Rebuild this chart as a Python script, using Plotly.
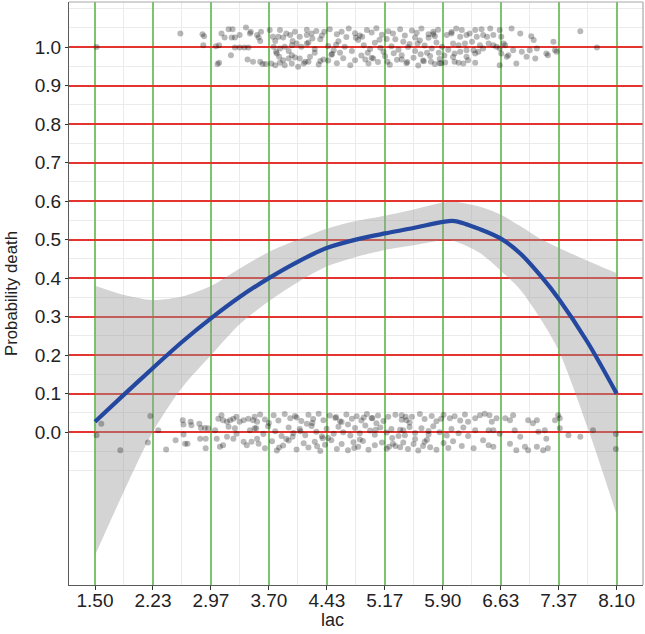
import plotly.graph_objects as go

# ---------------- data ----------------
tick_vals = [1.50, 2.2333, 2.9667, 3.70, 4.4333, 5.1667, 5.90, 6.6333, 7.3667, 8.10]
tick_text = ["1.50", "2.23", "2.97", "3.70", "4.43", "5.17", "5.90", "6.63", "7.37", "8.10"]
y_tick_vals = [0.0, 0.1, 0.2, 0.3, 0.4, 0.5, 0.6, 0.7, 0.8, 0.9, 1.0]
y_tick_text = ["0.0", "0.1", "0.2", "0.3", "0.4", "0.5", "0.6", "0.7", "0.8", "0.9", "1.0"]

fit_x = [1.50, 1.87, 2.23, 2.60, 2.97, 3.33, 3.70, 4.07, 4.43, 4.80, 5.17, 5.53,
         5.90, 6.05, 6.37, 6.63, 6.88, 7.15, 7.37, 7.73, 8.10]
fit_y = [0.027, 0.098, 0.166, 0.234, 0.296, 0.351, 0.400, 0.443, 0.478, 0.500, 0.516, 0.530,
         0.546, 0.548, 0.527, 0.503, 0.464, 0.403, 0.345, 0.234, 0.100]
ci_upper = [0.380, 0.356, 0.343, 0.352, 0.380, 0.425, 0.468, 0.500, 0.528, 0.548, 0.562, 0.578,
            0.596, 0.598, 0.585, 0.565, 0.535, 0.500, 0.478, 0.445, 0.413]
ci_lower = [-0.320, -0.152, 0.000, 0.115, 0.200, 0.280, 0.340, 0.390, 0.430, 0.455, 0.473, 0.485,
            0.498, 0.496, 0.465, 0.420, 0.370, 0.290, 0.210, 0.013, -0.215]

died_lac = [1.52, 2.58, 2.86, 2.88, 2.87, 3.03, 3.07, 3.10, 3.14, 3.19, 3.24, 3.23, 3.27, 3.33, 3.41,
            3.46, 3.47, 3.22, 3.27, 3.33, 3.39, 3.44, 3.05, 3.07, 3.43, 3.50, 3.59, 3.62, 3.66, 3.55,
            3.57, 3.59, 3.60, 3.71, 3.75, 3.78, 3.82, 3.84, 3.88, 3.92, 3.97, 4.00, 4.03, 4.09, 4.18,
            3.76, 3.79, 3.84, 3.90, 3.95, 3.99, 4.05, 4.11, 4.18, 3.80, 3.83, 3.88, 3.95, 3.99, 4.03,
            4.09, 4.14, 4.20, 3.73, 3.78, 3.84, 3.90, 3.99, 4.07,
            4.18, 4.24, 4.30, 4.37, 4.47, 4.56, 4.62, 4.71, 4.79, 4.85, 4.94, 5.00, 5.06, 5.13, 5.21,
            5.27, 5.36, 5.42, 5.51, 5.57, 5.63, 5.72, 5.78, 5.84, 5.95, 6.01,
            4.20, 4.28, 4.35, 4.45, 4.52, 4.58, 4.66, 4.75, 4.83, 4.90, 4.98, 5.04, 5.11, 5.19, 5.25,
            5.34, 5.40, 5.46, 5.55, 5.61, 5.67, 5.76, 5.82, 5.89, 5.97,
            4.16, 4.22, 4.33, 4.39, 4.49, 4.56, 4.64, 4.73, 4.79, 4.87, 4.96, 5.02, 5.08, 5.17, 5.23,
            5.32, 5.38, 5.44, 5.53, 5.59, 5.65, 5.74, 5.80, 5.86, 5.93, 6.03,
            5.70, 5.75, 5.55, 4.95, 4.60, 5.85, 4.40, 5.30, 5.88, 4.45,
            6.01, 6.07, 6.14, 6.12, 6.20, 6.24, 6.31, 6.33, 6.39, 6.41, 6.46, 6.50, 6.54, 6.03, 6.10,
            6.18, 6.27, 6.37, 6.48, 6.54, 6.58, 6.05, 6.12, 6.20, 6.29, 6.31, 6.35, 6.41, 6.05, 6.10,
            6.16, 6.22, 6.31, 6.20, 6.62, 6.64, 6.67, 6.62, 6.64, 6.62, 6.69, 6.77, 6.88, 6.79, 6.73,
            6.71, 6.83, 6.90, 6.96, 7.00, 7.02, 7.05, 7.09, 7.07, 7.21, 7.23, 7.30, 7.32, 7.34, 7.64,
            7.85,
            4.25, 4.50, 4.68, 4.92, 5.10, 5.28, 5.48, 5.66, 5.80, 4.35, 4.80, 5.15, 5.45, 5.72, 5.92,
            4.55, 5.00, 5.38, 5.62, 5.86, 4.28, 4.88, 5.20, 5.58, 5.78]
died_y = [1.000, 1.035, 1.033, 1.028, 1.005, 1.002, 1.005, 1.035, 1.025, 1.046, 1.046, 1.025, 1.025, 1.031, 1.051,
          1.035, 1.040, 0.979, 0.999, 0.999, 0.999, 0.999, 0.956, 0.959, 0.968, 0.962, 0.962, 0.956, 0.956, 1.031,
          1.025, 1.016, 1.040, 1.044, 1.027, 1.016, 1.027, 1.044, 1.025, 1.035, 1.031, 1.016, 1.040, 1.027, 1.031,
          1.001, 0.988, 0.996, 1.001, 0.990, 1.005, 1.009, 1.001, 1.009, 0.983, 0.975, 0.966, 0.970, 0.979, 0.973,
          0.970, 0.957, 0.962, 0.957, 0.953, 0.959, 0.953, 0.957, 0.949,
          1.045, 1.035, 1.042, 1.030, 1.046, 1.033, 1.040, 1.048, 1.036, 1.030, 1.044, 1.038, 1.049, 1.032, 1.041,
          1.035, 1.046, 1.030, 1.043, 1.037, 1.048, 1.033, 1.040, 1.045, 1.031, 1.039,
          1.012, 0.995, 1.020, 1.003, 0.992, 1.015, 1.001, 0.990, 1.018, 1.005, 0.995, 1.011, 0.998, 1.021, 1.002,
          0.993, 1.014, 1.000, 0.990, 1.017, 1.004, 0.996, 1.012, 1.001, 0.993,
          0.962, 0.975, 0.955, 0.968, 0.980, 0.958, 0.971, 0.953, 0.966, 0.978, 0.957, 0.970, 0.961, 0.976, 0.954,
          0.967, 0.979, 0.958, 0.972, 0.952, 0.965, 0.977, 0.956, 0.969, 0.960, 0.974,
          0.985, 0.962, 1.025, 0.985, 0.985, 0.985, 1.040, 1.020, 0.958, 0.965,
          1.035, 1.048, 1.044, 1.027, 1.031, 1.035, 1.044, 1.027, 1.046, 1.031, 1.027, 1.048, 1.031, 1.009, 1.005,
          1.009, 1.014, 1.005, 1.009, 1.005, 1.001, 0.983, 0.988, 0.992, 0.992, 0.983, 0.988, 0.996, 0.962, 0.959,
          0.957, 0.966, 0.959, 0.975, 1.044, 1.027, 1.009, 0.996, 0.983, 0.953, 1.005, 1.048, 1.035, 0.992, 0.979,
          0.975, 0.957, 0.988, 0.975, 0.992, 1.028, 1.018, 0.996, 0.970, 0.983, 0.979, 1.014, 0.992, 0.988, 1.041,
          0.999,
          1.022, 0.982, 1.026, 0.968, 1.019, 0.984, 1.008, 0.963, 1.028, 0.964, 1.024, 0.988, 0.961, 1.024, 0.978,
          1.006, 0.972, 0.968, 0.981, 0.958, 0.985, 1.027, 0.962, 1.009, 1.033]

alive_lac = [1.58, 1.52, 1.82, 2.20, 2.17, 2.30, 2.40, 2.52, 2.61, 2.62, 2.62, 2.64, 2.67, 2.71, 2.72,
             2.82, 2.84, 2.83, 2.90, 2.90, 2.89, 2.93, 3.02, 3.04, 3.06, 3.10, 3.12, 3.17, 3.21, 3.25,
             3.29, 3.33, 3.38, 3.44, 3.50, 3.55, 3.08, 3.12, 3.17, 3.25, 3.29, 3.38, 3.42, 3.48, 3.55,
             3.19, 3.27, 3.46, 3.52,
             3.52, 3.59, 3.65, 3.76, 3.82, 3.90, 3.97, 4.03, 4.11, 4.20, 4.26, 4.33, 4.39, 4.47, 4.54,
             4.60, 4.68, 4.75, 4.81, 4.87, 4.94, 5.00, 5.08, 5.15, 5.21, 5.30, 5.38,
             3.54, 3.63, 3.69, 3.78, 3.86, 3.95, 4.01, 4.09, 4.16, 4.24, 4.30, 4.37, 4.43, 4.52, 4.58,
             4.64, 4.73, 4.79, 4.85, 4.92, 4.98, 5.04, 5.11, 5.19, 5.25, 5.34, 5.40,
             3.57, 3.65, 3.74, 3.80, 3.88, 3.95, 4.05, 4.14, 4.20, 4.28, 4.35, 4.41, 4.49, 4.56, 4.62,
             4.70, 4.77, 4.83, 4.89, 4.96, 5.04, 5.13, 5.19, 5.27, 5.36,
             4.10, 4.45, 4.70, 5.05, 5.55, 4.25, 5.30, 4.90, 5.72, 4.00,
             5.38, 5.44, 5.51, 5.61, 5.67, 5.76, 5.82, 5.91, 5.99, 6.05, 6.12, 6.18,
             5.36, 5.42, 5.48, 5.55, 5.63, 5.72, 5.78, 5.86, 5.95, 6.01, 6.10, 6.16, 6.22,
             5.40, 5.46, 5.53, 5.59, 5.67, 5.74, 5.82, 5.91, 5.97, 6.03, 6.14,
             6.22, 6.31, 6.37, 6.43, 6.49, 6.52, 6.58, 6.48, 6.54, 6.31, 6.41, 6.48, 6.54, 6.29, 6.62,
             6.69, 6.75, 6.81, 6.79, 6.75, 6.88, 6.83, 6.94, 6.98, 6.98, 7.04, 7.09, 7.11, 7.19, 7.21,
             7.09, 7.17, 7.23, 7.32, 7.36, 7.38, 7.38, 7.49, 7.64, 7.80, 8.09, 8.09,
             3.70, 3.92, 4.18, 4.38, 4.62, 4.85, 5.06, 5.26, 5.48, 5.70, 3.83, 4.05, 4.31, 4.55, 4.78,
             5.01, 5.22, 5.43, 5.65, 5.88]
alive_y = [0.022, -0.008, -0.047, 0.042, -0.027, 0.005, -0.045, -0.021, 0.031, 0.020, -0.006, -0.030, -0.030, 0.027, 0.018,
           0.022, 0.011, -0.017, -0.017, -0.042, 0.011, 0.010, 0.005, -0.017, 0.035, 0.044, 0.031, 0.027, 0.031, 0.035,
           0.040, 0.027, 0.031, 0.035, 0.031, 0.027, -0.038, -0.034, -0.012, -0.017, -0.004, -0.025, -0.034, -0.025, -0.017,
           0.014, 0.010, 0.005, 0.010,
           0.040, 0.046, 0.033, 0.044, 0.030, 0.047, 0.036, 0.042, 0.029, 0.045, 0.034, 0.048, 0.031, 0.043, 0.037,
           0.028, 0.046, 0.035, 0.041, 0.030, 0.047, 0.036, 0.043, 0.029, 0.040, 0.045, 0.032,
           0.010, -0.005, 0.015, 0.002, -0.010, 0.012, -0.002, 0.008, -0.008, 0.016, 0.001, -0.011, 0.009, -0.004, 0.014,
           0.000, -0.009, 0.011, -0.003, 0.017, 0.004, -0.007, 0.012, -0.001, 0.008, -0.010, 0.005,
           -0.030, -0.042, -0.024, -0.048, -0.035, -0.022, -0.045, -0.029, -0.040, -0.025, -0.049, -0.033, -0.021, -0.044, -0.031,
           -0.047, -0.026, -0.038, -0.023, -0.046, -0.034, -0.027, -0.043, -0.030, -0.039,
           0.002, -0.015, 0.020, 0.006, -0.018, 0.024, -0.036, 0.038, 0.003, -0.012,
           0.044, 0.031, 0.040, 0.047, 0.034, 0.042, 0.028, 0.045, 0.036, 0.041, 0.030, 0.046,
           0.006, -0.008, 0.013, -0.002, 0.010, -0.006, 0.015, 0.000, -0.009, 0.008, -0.003, 0.012, -0.010,
           -0.027, -0.044, -0.031, -0.048, -0.025, -0.039, -0.046, -0.028, -0.041, -0.024, -0.036,
           0.027, 0.036, 0.044, 0.048, 0.044, 0.027, 0.036, 0.005, 0.005, 0.005, -0.021, -0.034, -0.038, -0.042, -0.004,
           0.036, 0.031, 0.005, 0.044, -0.030, -0.012, -0.047, -0.038, -0.047, 0.031, 0.023, 0.031, 0.001, 0.005, -0.017,
           -0.038, -0.047, -0.042, 0.031, 0.044, 0.036, 0.010, -0.008, -0.012, 0.005, -0.005, -0.044,
           0.024, -0.018, 0.022, -0.016, 0.026, -0.019, 0.023, -0.015, 0.025, -0.020, -0.040, 0.038, -0.037, 0.039, -0.041,
           0.037, -0.038, 0.040, -0.036, 0.035]

x_minor = [(a + b) / 2 for a, b in zip(tick_vals[:-1], tick_vals[1:])]
y_minor = [-0.10, -0.05, 0.05, 0.15, 0.25, 0.35, 0.45, 0.55, 0.65, 0.75, 0.85, 0.95, 1.05, 1.10]

FONT = "Liberation Sans, Arial, Helvetica, sans-serif"

fig = go.Figure()

# confidence band: lower edge, then upper edge filled down to it
fig.add_trace(go.Scatter(
    x=fit_x, y=ci_lower, mode="lines",
    line=dict(width=0, shape="spline", smoothing=0.8),
    hoverinfo="skip", showlegend=False))
fig.add_trace(go.Scatter(
    x=fit_x, y=ci_upper, mode="lines", fill="tonexty", fillcolor="rgba(153,153,153,0.42)",
    line=dict(width=0, shape="spline", smoothing=0.8),
    hoverinfo="skip", showlegend=False))

# jittered points
pt_marker = dict(size=6, color="rgba(0,0,0,0.28)", line=dict(width=0))
fig.add_trace(go.Scatter(x=died_lac, y=died_y, mode="markers", marker=pt_marker, showlegend=False))
fig.add_trace(go.Scatter(x=alive_lac, y=alive_y, mode="markers", marker=pt_marker, showlegend=False))

# smooth fit
fig.add_trace(go.Scatter(
    x=fit_x, y=fit_y, mode="lines",
    line=dict(color="#2448a0", width=4.2, shape="spline", smoothing=0.9),
    showlegend=False))

fig.update_layout(
    width=645, height=634,
    margin=dict(l=69, r=2, t=2, b=49, autoexpand=False),
    paper_bgcolor="white", plot_bgcolor="white",
    font=dict(family=FONT, size=19, color="#222222"),
    xaxis=dict(
        range=[1.171, 8.433], tickvals=tick_vals, ticktext=tick_text, automargin=False,
        showgrid=True, gridcolor="#7dc46c", gridwidth=1.5,
        minor=dict(tickvals=x_minor, showgrid=True, gridcolor="#ebebeb", gridwidth=1, ticks=""),
        showline=True, linecolor="#5a5a5a", linewidth=1.2,
        ticks="outside", ticklen=4, tickcolor="#333333", tickwidth=1,
        ticklabelstandoff=-6,
        zeroline=False, tickfont=dict(size=19, color="#222222"),
    ),
    yaxis=dict(
        range=[-0.397, 1.117], tickvals=y_tick_vals, ticktext=y_tick_text, automargin=False,
        showgrid=True, gridcolor="#e3342f", gridwidth=1.5,
        minor=dict(tickvals=y_minor, showgrid=True, gridcolor="#ebebeb", gridwidth=1, ticks=""),
        showline=True, linecolor="#5a5a5a", linewidth=1.2,
        ticks="outside", ticklen=3, tickcolor="#333333", tickwidth=1,
        zeroline=False, tickfont=dict(size=19, color="#222222"),
    ),
    shapes=[
        dict(type="line", xref="paper", yref="paper", x0=0, x1=1, y0=1, y1=1,
             line=dict(color="#a8a8a8", width=1.2)),
        dict(type="line", xref="paper", yref="paper", x0=1, x1=1, y0=0, y1=1,
             line=dict(color="#a8a8a8", width=1.2)),
    ],
    annotations=[
        dict(text="lac", xref="paper", yref="paper", x=(332 - 69) / 574, y=-(620 - 585) / 583,
             xanchor="center", yanchor="middle", showarrow=False,
             font=dict(family=FONT, size=18, color="#222222")),
        dict(text="Probability death", xref="paper", yref="paper", x=-(69 - 11) / 574, y=(293 - 2) / 583,
             xanchor="center", yanchor="middle", textangle=-90, showarrow=False,
             font=dict(family=FONT, size=16.8, color="#222222")),
    ],
)

fig.write_html("out.html", config={"displayModeBar": False},
               post_script="document.body.style.margin='0';document.body.style.padding='0';")
